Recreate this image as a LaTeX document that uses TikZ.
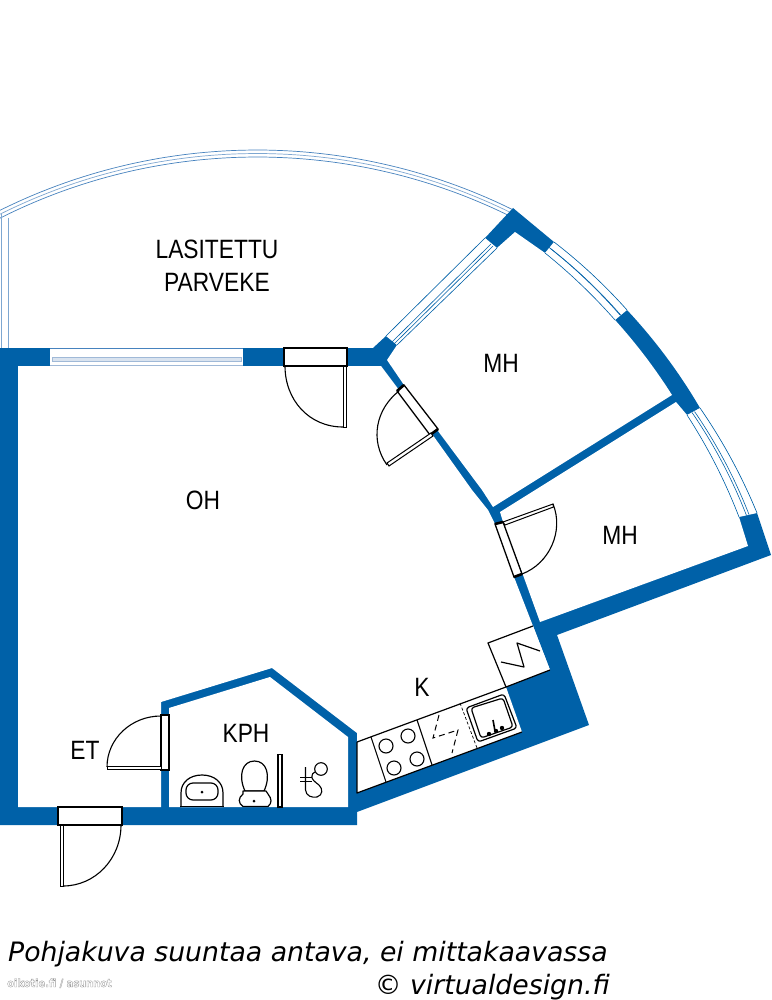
\documentclass[tikz,border=0pt]{standalone}
\usepackage{fontspec}
\usetikzlibrary{calc}
\setmainfont{Liberation Sans}
\newfontfamily\labfont[FakeStretch=0.86]{Liberation Sans}
\newfontfamily\capfont{DejaVu Sans}
\newfontfamily\wmfont[FakeStretch=0.88]{DejaVu Sans}
\definecolor{wallblue}{RGB}{0,97,168}
\definecolor{glass}{RGB}{70,130,190}
\definecolor{glasslight}{RGB}{160,185,215}
\tikzset{
  wall/.style={fill=wallblue,draw=none},
  room/.style={fill=white,draw=none},
  pane/.style={fill=white,draw=none},
  glassline/.style={draw=glass,line width=0.7pt},
  glassdark/.style={draw=wallblue,line width=0.6pt},
  fixture/.style={draw=black,line width=1.2pt,line join=round},
  thinfix/.style={draw=black,line width=1.1pt},
  doorbox/.style={draw=black,line width=1.3pt,fill=white},
  doorend/.style={draw=black,line width=2.6pt},
  leaf/.style={draw=black,line width=1pt,fill=white},
  swing/.style={draw=black,line width=1.1pt},
  roomlabel/.style={font=\labfont\fontsize{26.5}{26.5}\selectfont,inner sep=0pt,text=black},
  caption/.style={font=\capfont\itshape\fontsize{26.7}{26.7}\selectfont,inner sep=0pt,text=black},
}
\newcommand{\balc}[1]{plot[domain=-26.8:26.4,samples=70] ({257+#1*sin(\x)},{728-#1*cos(\x)})}
% quadratic segment from #1 with control #2 to #3
\newcommand{\qto}[3]{.. controls ($(#1)!0.6667!(#2)$) and ($(#3)!0.6667!(#2)$) .. (#3)}
\begin{document}
\begin{tikzpicture}[x=1pt,y=-1pt]
\useasboundingbox (0,0) rectangle (771,1000);
\fill[white] (0,0) rectangle (771,1000);
% balcony glazing
\begin{scope}
\clip (0,0) rectangle (771,1000);
\draw[glassline] \balc{578};
\draw[glassline,draw=glass!70] \balc{574.5};
\draw[glassline] \balc{571};
\end{scope}
\draw[glassline,draw=glass!70] (1,214) -- (1,348);
\draw[glassline,draw=glass!70] (8,218) -- (8,348);
% wall mass
\path[wall] (0,348) -- (373,348) -- (386,336) -- (485,238) -- (513,208) -- (554,242)
  \qto{554,242}{593.6,272.6}{627,310}
  \qto{627,310}{669,355}{700,408}
  \qto{700,408}{734.1,457.4}{757,513}
  -- (771,555) -- (557,635) -- (589,725) -- (357,812) -- (357,825) -- (0,825) -- cycle;
% rooms
\path[room] (18,366) -- (381,366) -- (399,390) -- (432,434) -- (472,490) -- (488,510) -- (495,524) -- (514,577)
  -- (533,626) -- (550,670) -- (506,687) -- (522,732) -- (357,793) -- (357,733)
  -- (272,668) -- (161,702) -- (161,807) -- (18,807) -- cycle;
\path[room] (387,360) -- (397,345) -- (497,248) -- (515,232) -- (545,253)
  \qto{545,253}{582.9,283.5}{615,320}
  \qto{615,320}{646.7,355.1}{672,395} -- (493,507) -- (482,490) -- (438,431) -- (404,385) -- cycle;
\path[room] (676,402) -- (687,415) \qto{687,415}{718.3,463.3}{739,517} -- (748,546) -- (540,622)
  -- (523,575) -- (503,522) -- (500,512) -- cycle;
\path[room] (169,708) -- (270,677) -- (348,737) -- (348,807) -- (169,807) -- cycle;
% window, living room
\path[pane] (50,348) rectangle (243,366);
\draw[glass,line width=0.9pt] (50,348.5) -- (243,348.5);
\draw[glasslight,line width=1.2pt] (50,365.5) -- (243,365.5);
\draw[glasslight,line width=1pt,fill=glasslight!40] (52,357) rectangle (241,361);
% window, NW of bedroom
\path[pane] (386,336) -- (485,238) -- (497,248) -- (397,345) -- cycle;
\draw[glassdark] (386,336) -- (485,238) (397,345) -- (497,248);
\draw[glassdark] (392,342) -- (491,244) (394,344) -- (493,246);
% window, bedroom east 1
\path[pane] (554,242) \qto{554,242}{593.6,272.6}{627,310} -- (615,320) \qto{615,320}{582.9,283.5}{545,253} -- cycle;
\draw[glassdark] (554,242) \qto{554,242}{593.6,272.6}{627,310};
\draw[glassdark] (545,253) \qto{545,253}{582.9,283.5}{615,320};
\draw[glassdark] (548.5,247) \qto{548.5,247}{587.3,277.5}{620,315};
\draw[glassdark] (550.5,248.5) \qto{550.5,248.5}{589.3,279}{622,316.5};
% window, bedroom east 2
\path[pane] (700,408) \qto{700,408}{734.1,457.4}{757,513} -- (739,517) \qto{739,517}{718.3,463.3}{687,415} -- cycle;
\draw[glassdark] (700,408) \qto{700,408}{734.1,457.4}{757,513};
\draw[glassdark] (687,415) \qto{687,415}{718.3,463.3}{739,517};
\draw[glassdark] (692,412.5) \qto{692,412.5}{725,460.5}{746.5,515.5};
\draw[glassdark] (694.5,411.5) \qto{694.5,411.5}{727.5,459.5}{749,514.5};
% door 1
\draw[doorbox] (284,348) rectangle (347,366);
\draw[doorend] (284,348) -- (284,366) (347,348) -- (347,366);
\draw[leaf] (343,366) rectangle (346.5,427);
\draw[swing] (285,366) .. controls (285,400) and (309,427) .. (343,427);
% door 2
\draw[doorbox] (404,385) -- (438,429) -- (430,435) -- (397,391) -- cycle;
\draw[doorend] (404,385) -- (397,391) (438,429) -- (430,435);
\draw[leaf] (431,433) -- (387,463) -- (389,466) -- (433,436) -- cycle;
\draw[swing] (399,391) .. controls (376,409) and (369.4,440) .. (387,465);
% door 3
\draw[doorbox] (495,524) -- (503,522) -- (522,574) -- (514,577) -- cycle;
\draw[doorend] (495,524) -- (503,522) (522,574) -- (514,577);
\draw[leaf] (503,522) -- (553,504) -- (553.5,507) -- (505,525) -- cycle;
\draw[swing] (553,504) .. controls (564,531) and (549.6,563.5) .. (522,574);
% door 4
\draw[doorbox] (161,715) rectangle (169,770);
\draw[doorend] (161,715) -- (169,715) (161,770) -- (169,770);
\draw[leaf] (107,766.5) rectangle (161,769.5);
\draw[swing] (161,716) .. controls (131,716) and (107,739) .. (107,767);
% door 5
\draw[doorbox] (58,807) rectangle (122,825);
\draw[doorend] (58,807) -- (58,825) (122,807) -- (122,825);
\draw[leaf] (60,825) rectangle (63,886);
\draw[swing] (121,825) .. controls (121,859) and (95,886) .. (63,886);
% fridge niche
\draw[fixture,fill=white] (533,626) -- (488,643) -- (506,687) -- (550,670);
\draw[fixture] (501,662) -- (524,667) -- (517,643) -- (540,651);
% kitchen counter
\draw[fixture] (357,742) -- (506,687);
\draw[fixture] (357,742) -- (357,793) -- (522,732);
\draw[thinfix] (371,737) -- (386,782);
\draw[thinfix] (417,720) -- (432,765);
\draw[thinfix,densely dashed,line width=0.7pt] (460,703) -- (477,748);
\foreach \cx/\cy in {386/746,408/736,394/768,417/759}
  \draw[thinfix] (\cx,\cy) circle[radius=7];
\draw[thinfix,dash pattern=on 6pt off 4pt,line width=1pt] (439,715) -- (433,738) -- (458,730) -- (452,753);
\draw[fixture,rounded corners=3pt] (466,708) -- (504,694) -- (517,728) -- (478,742) -- cycle;
\draw[fixture,rounded corners=3pt] (471,708) -- (503,698) -- (513,727) -- (481,738) -- cycle;
\draw[draw=black,line width=1.6pt] (493,720) -- (495,731);
\foreach \cx/\cy in {489/734,496/731,502/728}
  \fill[black] (\cx,\cy) circle[radius=2.2];
% bathroom fixtures
\draw[fixture,fill=white] (181,807) -- (181,793) .. controls (181,782) and (190,775) .. (202,775)
  .. controls (214,775) and (223,782) .. (223,793) -- (223,807);
\draw[fixture] (180,806.5) -- (224,806.5);
\draw[fixture,rounded corners=7pt] (186,783) rectangle (218,800);
\fill[black] (202,792) circle[radius=1.5];
\draw[fixture,fill=white] (245,791) .. controls (238,776) and (242,761) .. (254.5,761)
  .. controls (267,761) and (271,776) .. (264,791) -- cycle;
\draw[fixture,fill=white] (243,791) -- (266,791) -- (268,794) .. controls (272,799) and (272,803) .. (268,806.5)
  -- (243,806.5) .. controls (238,803) and (238,798) .. (243,794) -- cycle;
\fill[black] (254,801) circle[radius=1.5];
\draw[thinfix,fill=white] (278,754.5) rectangle (282,807);
\draw[thinfix] (300,777.5) -- (312,777.5) (300,781.5) -- (312,781.5);
\draw[thinfix,line width=1.1pt] (305.5,767) -- (305.5,790) .. controls (306,796) and (312,798) .. (317,797)
  .. controls (323,795) and (323,789) .. (319,785) .. controls (315,782) and (311,779) .. (312,776) .. controls (312,774) and (313,773) .. (315,772);
\draw[thinfix,line width=1.1pt] (321,769) circle[radius=6.3];
% labels
\node[roomlabel] (lasitettu) at (217,249) {LASITETTU};
\node[roomlabel] (parveke) at (217,282) {PARVEKE};
\node[roomlabel] (mh1) at (501,363) {MH};
\node[roomlabel] (mh2) at (620,535) {MH};
\node[roomlabel] (oh) at (203,500) {OH};
\node[roomlabel] (k) at (422,687) {K};
\node[roomlabel] (kph) at (246,733) {KPH};
\node[roomlabel] (et) at (85,750) {ET};
% caption
\node[caption,anchor=base west] (cap1) at (8,961) {Pohjakuva suuntaa antava, ei mittakaavassa};
\node[caption,anchor=base east] (cap2) at (610,994) {© virtualdesign.fi};
\node[font=\wmfont\bfseries\fontsize{11.2}{11.2}\selectfont,text=black!40,inner sep=0pt,anchor=base west] (wm) at (7,987) {\special{pdf:code 1 Tr 0.35 w}oikotie.fi / asunnot\special{pdf:code 0 Tr}};
\end{tikzpicture}
\end{document}
